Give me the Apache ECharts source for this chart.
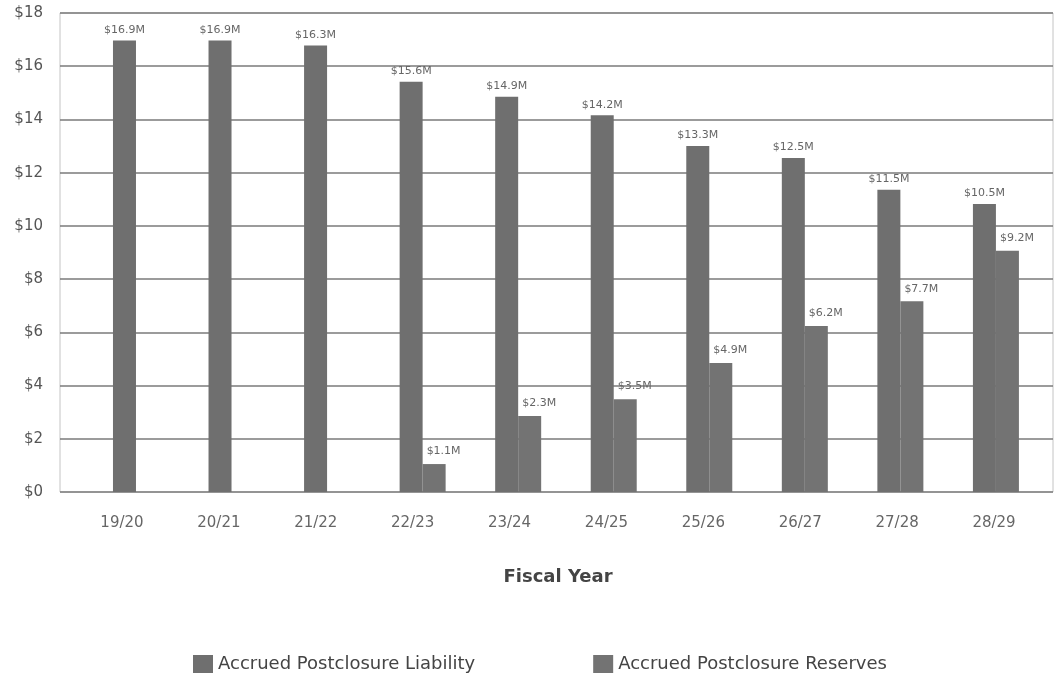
<!DOCTYPE html>
<html>
<head>
<meta charset="utf-8">
<script src="https://cdn.jsdelivr.net/npm/echarts@6/dist/echarts.min.js"></script>
<style>html,body{margin:0;padding:0;background:#fff;}#c{width:1055px;height:676px;}</style>
</head>
<body>
<div id="c"></div>
<script>
var categories = ['19/20','20/21','21/22','22/23','23/24','24/25','25/26','26/27','27/28','28/29'];
var liability = [16.97, 16.97, 16.78, 15.42, 14.85, 14.16, 13.0, 12.55, 11.36, 10.82];
var reserves = [null, null, null, 1.05, 2.86, 3.49, 4.85, 6.24, 7.17, 9.07];
var liabilityLabels = ['$16.9M','$16.9M','$16.3M','$15.6M','$14.9M','$14.2M','$13.3M','$12.5M','$11.5M','$10.5M'];
var reservesLabels = ['','','','$1.1M','$2.3M','$3.5M','$4.9M','$6.2M','$7.7M','$9.2M'];
var yMin = 0, yMax = 18, yStep = 2;
var seriesNames = ['Accrued Postclosure Liability', 'Accrued Postclosure Reserves'];

var chart = echarts.init(document.getElementById('c'));
var font = 'DejaVu Sans';
chart.setOption({
  animation: false,
  backgroundColor: '#fff',
  grid: [
    {left: 60, right: 2, top: 13, bottom: 184, show: true, borderColor: '#c4c4c4', borderWidth: 1, backgroundColor: 'transparent'},
    {left: 88.2, width: 955.5, top: 13, bottom: 184},
    {left: 73.5, width: 969, top: 13, bottom: 184}
  ],
  xAxis: [
    {gridIndex: 0, type: 'category', data: categories, show: false},
    {gridIndex: 1, type: 'category', data: categories, show: false},
    {gridIndex: 2, type: 'category', data: categories,
      axisLine: {show: false}, axisTick: {show: false},
      axisLabel: {margin: 24, color: '#666', fontFamily: font, fontSize: 15},
      name: 'Fiscal Year', nameLocation: 'middle', nameGap: 76,
      nameTextStyle: {fontFamily: font, fontWeight: 'bold', fontSize: 18, color: '#444'}}
  ],
  yAxis: [
    {gridIndex: 0, type: 'value', min: yMin, max: yMax, interval: yStep,
      axisLine: {show: false}, axisTick: {show: false},
      axisLabel: {margin: 17, color: '#555', fontFamily: font, fontSize: 15, formatter: function(v){return '$' + v;}},
      splitLine: {lineStyle: {color: '#7a7a7a', width: 1.5}}},
    {gridIndex: 1, type: 'value', min: yMin, max: yMax, interval: yStep, show: false, splitLine: {show: false}},
    {gridIndex: 2, type: 'value', min: yMin, max: yMax, interval: yStep, show: false, splitLine: {show: false}}
  ],
  legend: {
    left: 188, top: 650, itemWidth: 20, itemHeight: 18, itemGap: 118, icon: 'rect',
    textStyle: {fontFamily: font, fontSize: 18, color: '#444'},
    data: seriesNames
  },
  series: [
    {name: seriesNames[0], type: 'bar', xAxisIndex: 1, yAxisIndex: 1, data: liability,
      barWidth: 23, barGap: '0%',
      itemStyle: {color: '#6f6f6f'},
      label: {show: true, position: 'top', distance: 5, color: '#666', fontFamily: font, fontSize: 11,
        formatter: function(p){return liabilityLabels[p.dataIndex];}}},
    {name: seriesNames[1], type: 'bar', xAxisIndex: 1, yAxisIndex: 1, data: reserves,
      barWidth: 23, barGap: '0%',
      itemStyle: {color: '#737373'},
      label: {show: true, position: [4, -18], color: '#666', fontFamily: font, fontSize: 11,
        formatter: function(p){return reservesLabels[p.dataIndex];}}}
  ]
});
</script>
</body>
</html>
